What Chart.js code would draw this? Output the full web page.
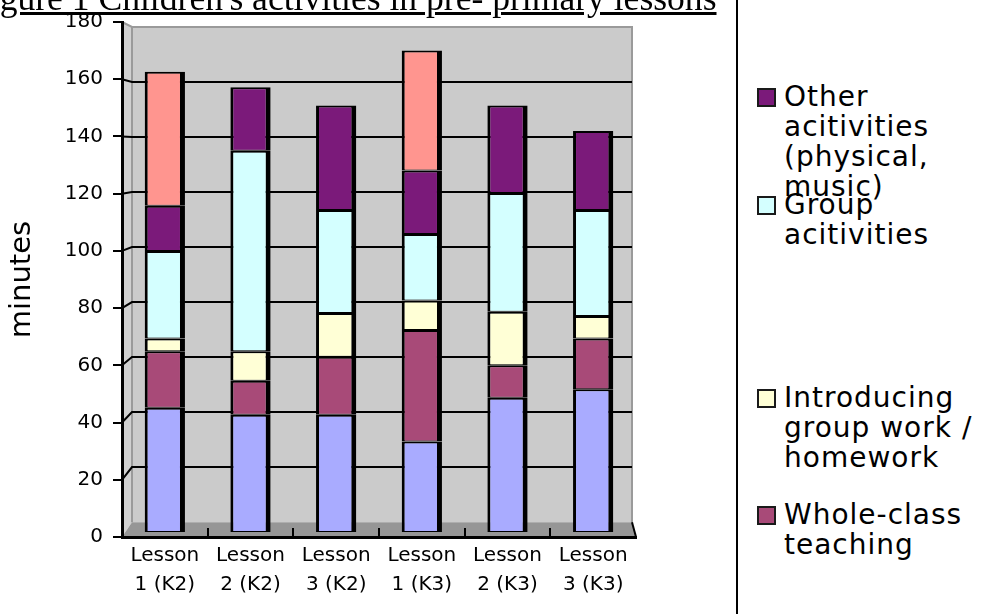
<!DOCTYPE html>
<html lang="en">
<head>
  <meta charset="UTF-8" />
  <title>Children's activities in pre-primary lessons</title>
  <script src="https://cdn.jsdelivr.net/npm/chart.js"></script>
  <style>
    html, body { margin: 0; padding: 0; background: #fff; }
    body { width: 1003px; height: 614px; position: relative; overflow: hidden; font-family: "DejaVu Sans", sans-serif; color: #000; }
    .chart-box { position: absolute; left: 0; top: 0; width: 740px; height: 614px; }
    .fig-title { position: absolute; left: -30px; top: -20px; font-family: "Liberation Serif", serif; font-size: 35.6px; line-height: 36px; text-decoration: underline; white-space: nowrap; }
    .divider { position: absolute; left: 736px; top: 0; width: 2px; height: 614px; background: #000; }
    .legend { position: absolute; left: 757px; top: 0; width: 246px; height: 614px; }
    .legend-item { position: absolute; left: 0; }
    .swatch { position: absolute; left: 0; top: 6px; width: 15px; height: 15px; border: 2px solid #1a1a1a; }
    .legend-text { position: absolute; left: 27px; top: 0; width: 218px; font-size: 28px; line-height: 30px; letter-spacing: 1px; }
  </style>
</head>
<body>
  <div class="chart-box"><canvas id="activityChart"></canvas></div>
  <div class="fig-title">Figure 1 Children's activities in pre- primary lessons</div>
  <div class="divider"></div>
  <div class="legend" id="legend"></div>

  <script>
    const lessons = [
      ['Lesson', '1 (K2)'], ['Lesson', '2 (K2)'], ['Lesson', '3 (K2)'],
      ['Lesson', '1 (K3)'], ['Lesson', '2 (K3)'], ['Lesson', '3 (K3)']
    ];
    const yTickValues = [0, 20, 40, 60, 80, 100, 120, 140, 160, 180];

    // minutes per lesson, from the bottom of each stack up
    const baseSegment = [44, 41.5, 41.5, 32, 47.5, 50.5];
    const wholeClass = [20, 12, 20.5, 39.5, 11.5, 18];
    const introducing = [4.5, 10.5, 15.5, 10.5, 19, 8];
    const groupActivities = [31, 71, 36.5, 23.5, 42, 37.5];
    const otherActivities = [16, 22.5, 37, 22.5, 31, 28];
    const topSegment = [47.5, null, null, 42.5, null, null];

    const series = [
      { label: '', data: baseSegment, color: '#a9abff', legend: false },
      { label: 'Whole-class teaching', data: wholeClass, color: '#a84a78', legend: true },
      { label: 'Introducing group work / homework', data: introducing, color: '#ffffd6', legend: true },
      { label: 'Group acitivities', data: groupActivities, color: '#d4ffff', legend: true },
      { label: 'Other acitivities (physical, music)', data: otherActivities, color: '#7b1a7a', legend: true },
      { label: '', data: topSegment, color: '#ff958f', legend: false }
    ];

    // legend, top series first
    const legendTops = [82, 190, 383, 500];
    const legendEl = document.getElementById('legend');
    series.filter(s => s.legend).reverse().forEach((s, i) => {
      const item = document.createElement('div');
      item.className = 'legend-item';
      item.style.top = legendTops[i] + 'px';
      item.innerHTML = `<div class="swatch" style="background:${s.color}"></div><div class="legend-text">${s.label}</div>`;
      legendEl.appendChild(item);
    });

    Chart.defaults.font.family = 'DejaVu Sans';
    Chart.defaults.color = '#000';

    const yMin = yTickValues[0];
    const yMax = yTickValues[yTickValues.length - 1];

    // grey back wall, side wall and floor with the gridlines
    const walls = {
      id: 'walls',
      beforeDraw(chart) {
        const { ctx, chartArea: a, scales } = chart;
        const yF = scales.y, yB = scales.yBack, x = scales.x;
        const bl = a.left + 10, br = a.right - 4;
        const top = yB.getPixelForValue(yMax), floor = yB.getPixelForValue(yMin);
        const frontTop = yF.getPixelForValue(yMax);
        ctx.save();

        ctx.fillStyle = '#cbcbcb';
        ctx.fillRect(bl, top, br - bl, floor - top);

        ctx.beginPath();
        ctx.moveTo(a.left, frontTop); ctx.lineTo(bl, top); ctx.lineTo(bl, floor); ctx.lineTo(a.left, a.bottom);
        ctx.closePath();
        ctx.fillStyle = '#d0d0d0';
        ctx.fill();

        ctx.beginPath();
        ctx.moveTo(a.left, a.bottom); ctx.lineTo(bl, floor); ctx.lineTo(br, floor); ctx.lineTo(a.right, a.bottom);
        ctx.closePath();
        ctx.fillStyle = '#969696';
        ctx.fill();

        ctx.strokeStyle = '#9a9a9a';
        ctx.lineWidth = 2;
        ctx.beginPath();
        ctx.moveTo(a.left, frontTop); ctx.lineTo(bl, top); ctx.lineTo(br, top); ctx.lineTo(br, floor);
        ctx.moveTo(bl, top); ctx.lineTo(bl, floor);
        ctx.stroke();

        ctx.strokeStyle = '#000';
        ctx.lineWidth = 2;
        yTickValues.forEach(v => {
          if (v <= yMin || v >= yMax) return;
          const yb = yB.getPixelForValue(v);
          ctx.beginPath();
          ctx.moveTo(a.left, yF.getPixelForValue(v));
          ctx.lineTo(bl, yb);
          ctx.lineTo(br, yb);
          ctx.stroke();
        });

        // category separators standing on the floor edge
        for (let i = 1; i < lessons.length; i++) {
          const px = Math.round((x.getPixelForValue(i - 1) + x.getPixelForValue(i)) / 2);
          ctx.beginPath();
          ctx.moveTo(px, a.bottom - 9);
          ctx.lineTo(px, a.bottom);
          ctx.stroke();
        }
        ctx.beginPath();
        ctx.moveTo(br, floor); ctx.lineTo(a.right, a.bottom);
        ctx.stroke();
        ctx.restore();
      }
    };

    new Chart(document.getElementById('activityChart'), {
      type: 'bar',
      data: {
        labels: lessons,
        datasets: series.map(s => ({
          label: s.label,
          data: s.data,
          yAxisID: 'yBar',
          backgroundColor: s.color,
          borderColor: '#000',
          borderWidth: { top: 2, right: 5, bottom: 1, left: 3 },
          borderSkipped: false,
          categoryPercentage: 0.47,
          barPercentage: 1
        }))
      },
      options: {
        responsive: true,
        maintainAspectRatio: false,
        animation: false,
        layout: { padding: { top: 20, right: 104, left: 0, bottom: 0 } },
        plugins: {
          legend: { display: false },
          tooltip: { enabled: false }
        },
        scales: {
          x: {
            stacked: true,
            afterFit: s => { s.height = 77; },
            grid: { display: false, drawTicks: false },
            border: { display: true, color: '#000', width: 3 },
            ticks: { font: { size: 20, lineHeight: 1.45 }, padding: 4, maxRotation: 0, autoSkip: false }
          },
          y: {
            min: yMin,
            max: yMax,
            afterFit: s => { s.width = 122; },
            grid: { drawOnChartArea: false, color: '#000', lineWidth: 2, tickLength: 9 },
            border: { display: true, color: '#000', width: 3 },
            ticks: { font: { size: 20 }, padding: 10, stepSize: yTickValues[1] - yTickValues[0] },
            title: {
              display: true,
              text: 'minutes',
              font: { size: 29 },
              padding: { top: 5, bottom: 0 }
            }
          },
          // back wall plane (gridlines)
          yBack: { display: false, min: -5.4, max: 181.8 },
          // plane the columns stand on
          yBar: { display: false, stacked: true, min: -1.8, max: 180.6 }
        }
      },
      plugins: [walls]
    });
  </script>
</body>
</html>
